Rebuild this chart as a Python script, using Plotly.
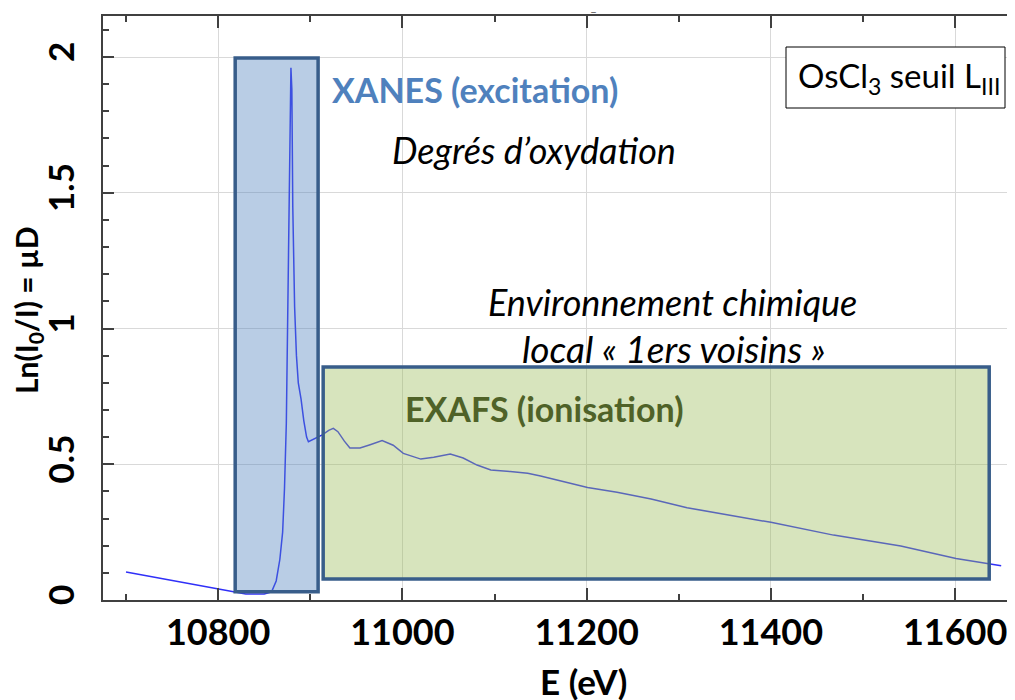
import plotly.graph_objects as go

# ---- data ----
energy_ev = [10700, 10800, 10816, 10830, 10850, 10858, 10863, 10867, 10870, 10872,
             10874, 10876, 10877, 10878, 10879, 10880, 10881, 10883, 10885, 10887,
             10890, 10893, 10896, 10898, 10905, 10913, 10920, 10925, 10930, 10937,
             10943, 10954, 10965, 10978, 10990, 11001, 11020, 11034, 11052, 11066,
             11081, 11096, 11117, 11136, 11150, 11175, 11201, 11233, 11270, 11309,
             11350, 11400, 11468, 11541, 11601, 11632, 11650]
mu_d = [0.103, 0.040, 0.030, 0.022, 0.022, 0.030, 0.070, 0.15, 0.25, 0.41,
        0.65, 1.15, 1.60, 1.79, 1.96, 1.88, 1.45, 1.08, 0.90, 0.80,
        0.74, 0.66, 0.60, 0.583, 0.595, 0.608, 0.625, 0.632, 0.62, 0.585,
        0.56, 0.56, 0.572, 0.587, 0.57, 0.54, 0.519, 0.526, 0.538, 0.523,
        0.497, 0.479, 0.473, 0.467, 0.457, 0.437, 0.414, 0.397, 0.372, 0.34,
        0.315, 0.286, 0.239, 0.199, 0.153, 0.135, 0.126]

x_tickvals = [10800, 11000, 11200, 11400, 11600]
x_ticktext = ["10800", "11000", "11200", "11400", "11600"]
y_tickvals = [0, 0.5, 1, 1.5, 2]
y_ticktext = ["0", "0.5", "1", "1.5", "2"]

# region boxes (data coordinates)
xanes_box = dict(x0=10818.5, x1=10908.5, y0=0.03, y1=1.996)
exafs_box = dict(x0=10914, x1=11637, y0=0.077, y1=0.858)

# ---- layout geometry (screen pixels) ----
SCREEN_W, SCREEN_H = 1015, 700
BODY_OFF = 8                      # default page margin of the html body
PLOT_L, PLOT_R, PLOT_T, PLOT_B = 103, 1015, 16, 600
PW, PH = PLOT_R - PLOT_L, PLOT_B - PLOT_T
W, H = SCREEN_W - BODY_OFF, SCREEN_H - BODY_OFF


def px(x):
    return (x - PLOT_L) / PW


def py(y):
    return (PLOT_B - y) / PH


FONT = "Lato"
AXIS_COL = "#404040"
GRID_COL = "#D9D9D9"

fig = go.Figure()
fig.add_trace(go.Scatter(
    x=energy_ev, y=mu_d, mode="lines",
    line=dict(color="#3030F8", width=1.5),
    showlegend=False, hoverinfo="skip",
))

# boxes
fig.add_shape(type="rect", xref="x", yref="y", layer="above",
              fillcolor="rgba(79,129,189,0.4)",
              line=dict(color="#385D8A", width=3.5), **xanes_box)
fig.add_shape(type="rect", xref="x", yref="y", layer="above",
              fillcolor="rgba(155,187,89,0.4)",
              line=dict(color="#385D8A", width=3.5), **exafs_box)

# sample label box
fig.add_shape(type="rect", xref="paper", yref="paper", layer="above",
              x0=px(786), x1=px(1005), y0=py(108), y1=py(47),
              fillcolor="white", line=dict(color="black", width=1))

ann = []
ann.append(dict(x=px(899), y=py(78), xref="paper", yref="paper",
                text="OsCl<sub>3</sub> seuil L<sub>III</sub>", showarrow=False,
                font=dict(family=FONT, size=33, color="black"),
                xanchor="center", yanchor="middle"))
ann.append(dict(x=px(475), y=py(90), xref="paper", yref="paper",
                text="XANES (excitation)", showarrow=False,
                font=dict(family=FONT, size=34, color="#4F81BD", weight="bold"),
                xanchor="center", yanchor="middle"))
ann.append(dict(x=px(533.5), y=py(150), xref="paper", yref="paper",
                text="Degrés d’oxydation", showarrow=False,
                font=dict(family=FONT, size=36, color="black", style="italic"),
                xanchor="center", yanchor="middle"))
ann.append(dict(x=px(672.5), y=py(302), xref="paper", yref="paper",
                text="Environnement chimique", showarrow=False,
                font=dict(family=FONT, size=36, color="black", style="italic"),
                xanchor="center", yanchor="middle"))
ann.append(dict(x=px(673), y=py(348), xref="paper", yref="paper",
                text="local « 1ers voisins »", showarrow=False,
                font=dict(family=FONT, size=37, color="black", style="italic"),
                xanchor="center", yanchor="middle"))
ann.append(dict(x=px(543.5), y=py(408), xref="paper", yref="paper",
                text="EXAFS (ionisation)", showarrow=False,
                font=dict(family=FONT, size=34, color="#4F6228", weight="bold"),
                xanchor="center", yanchor="middle"))
# axis titles
ann.append(dict(x=px(583), y=py(681), xref="paper", yref="paper",
                text="E (eV)", showarrow=False,
                font=dict(family=FONT, size=35, color="black", weight="bold"),
                xanchor="center", yanchor="middle"))
ann.append(dict(x=px(28), y=py(310), xref="paper", yref="paper",
                text="Ln(I<sub>0</sub>/I) = µD", showarrow=False, textangle=-90,
                font=dict(family=FONT, size=30, color="black", weight="bold"),
                xanchor="center", yanchor="middle"))
# small stray dash above the frame
ann.append(dict(x=px(593), y=py(11), xref="paper", yref="paper",
                text="–", showarrow=False,
                font=dict(family=FONT, size=12, color="#595959"),
                xanchor="center", yanchor="middle"))

fig.update_layout(
    width=W, height=H,
    margin=dict(l=PLOT_L - BODY_OFF, r=SCREEN_W - PLOT_R,
                t=PLOT_T - BODY_OFF, b=SCREEN_H - PLOT_B,
                pad=0, autoexpand=False),
    paper_bgcolor="white", plot_bgcolor="white",
    annotations=ann,
    showlegend=False,
)

fig.update_xaxes(
    range=[10675, 11665], automargin=False,
    tickmode="array", tickvals=x_tickvals, ticktext=x_ticktext,
    tickfont=dict(family=FONT, size=36, color="black", weight="bold"),
    ticks="inside", ticklen=12, tickwidth=1.5, tickcolor=AXIS_COL,
    showline=True, linecolor=AXIS_COL, linewidth=1.5, mirror="allticks",
    showgrid=True, gridcolor=GRID_COL, gridwidth=1,
    zeroline=False,
    minor=dict(dtick=100, tick0=10700, ticks="inside", ticklen=6,
               tickwidth=1.5, tickcolor=AXIS_COL, showgrid=False),
    ticklabelstandoff=0,
)
fig.update_yaxes(
    range=[0, 2.151], automargin=False,
    tickmode="array", tickvals=y_tickvals, ticktext=y_ticktext,
    tickangle=-90,
    tickfont=dict(family=FONT, size=35, color="black", weight="bold"),
    ticks="inside", ticklen=11, tickwidth=1.5, tickcolor=AXIS_COL,
    showline=True, linecolor=AXIS_COL, linewidth=1.5, mirror=False,
    showgrid=True, gridcolor=GRID_COL, gridwidth=1,
    zeroline=False,
    minor=dict(dtick=0.1, tick0=0, ticks="inside", ticklen=6,
               tickwidth=1.5, tickcolor=AXIS_COL, showgrid=False),
    ticklabelstandoff=13,
)

fig.write_html("out.html")
